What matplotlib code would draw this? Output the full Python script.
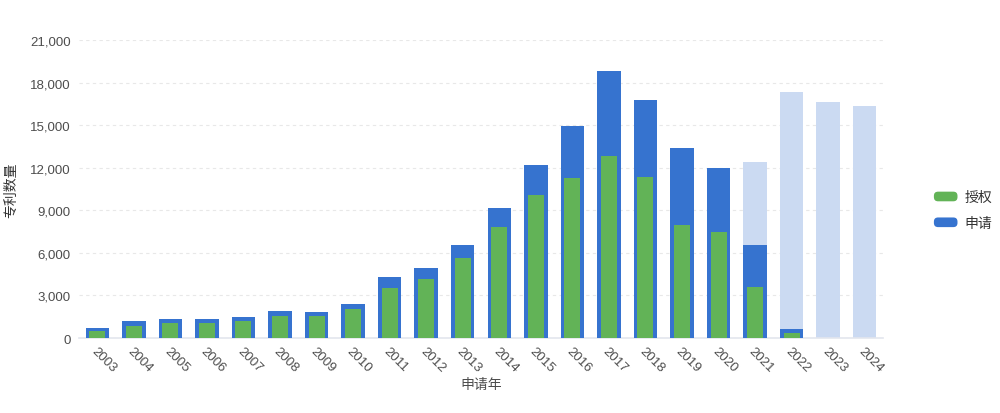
import matplotlib.pyplot as plt
import numpy as np
from matplotlib.legend_handler import HandlerPatch
from matplotlib.patches import FancyBboxPatch, Patch

plt.rcParams['font.family'] = ['Liberation Sans', 'Noto Sans CJK SC', 'DejaVu Sans']

years = [str(y) for y in range(2003, 2025)]
# 申请 (applications), 授权 (granted), 预估 total shown as light bars
applied = [700, 1220, 1360, 1315, 1460, 1880, 1810, 2400, 4300, 4930, 6550,
           9160, 12190, 14940, 18820, 16790, 13370, 11960, 6550, 630, 0, 0]
granted = [515, 820, 1035, 1080, 1220, 1550, 1550, 2070, 3520, 4160, 5640,
           7820, 10080, 11280, 12830, 11320, 7990, 7490, 3600, 350, 0, 0]
estimate = [0] * 18 + [12430, 17320, 16610, 16350]

green = '#62b357'
blue = '#3673cf'
light = '#cbdaf2'


class RoundHandler(HandlerPatch):
    def create_artists(self, legend, orig_handle, xdescent, ydescent,
                       width, height, fontsize, trans):
        p = FancyBboxPatch((-xdescent + 1, -ydescent + 1), width - 2, height - 2,
                           boxstyle='round,pad=0,rounding_size=3',
                           facecolor=orig_handle.get_facecolor(),
                           edgecolor='none', transform=trans)
        return [p]


fig = plt.figure(figsize=(10, 4.14), dpi=100)
ax = fig.add_axes([0.079, 0.181, 0.804, 0.72])

x = np.arange(len(years))
ax.bar(x, estimate, width=0.64, color=light, zorder=2)
ax.bar(x, applied, width=0.64, color=blue, zorder=3)
ax.bar(x, granted, width=0.44, color=green, zorder=4)

ax.set_xlim(-0.5, len(years) - 0.5)
ax.set_ylim(0, 21000)
ax.set_yticks(range(0, 21001, 3000))
ax.set_yticklabels([f'{v:,}' for v in range(0, 21001, 3000)])
ax.set_xticks(x)
ax.set_xticklabels(years, rotation=-45, ha='left', va='top', rotation_mode='anchor')

ax.grid(axis='y', color='#e8e8e8', linestyle=(0, (3, 3)), linewidth=0.8, zorder=0)
for s in ['top', 'right', 'left']:
    ax.spines[s].set_visible(False)
ax.spines['bottom'].set_color('#e3e6ee')
ax.spines['bottom'].set_linewidth(1.2)
ax.tick_params(axis='both', length=0, labelsize=9.5, colors='#4d4d4d')
ax.tick_params(axis='y', pad=6)
ax.tick_params(axis='x', pad=5)

ax.set_xlabel('申请年', fontsize=10, color='#4d4d4d', labelpad=2)
ax.set_ylabel('专利数量', fontsize=10, color='#333333')
ax.yaxis.set_label_coords(-0.076, 0.5)

handles = [Patch(facecolor=green, label='授权'), Patch(facecolor=blue, label='申请')]
fig.legend(handles=handles, loc='center left', bbox_to_anchor=(0.92, 0.49),
           frameon=False, fontsize=10, handler_map={Patch: RoundHandler()},
           handlelength=1.9, handleheight=1.0, handletextpad=0.4, labelspacing=0.85,
           labelcolor='#333333')

fig.savefig('out.png', dpi=100)
